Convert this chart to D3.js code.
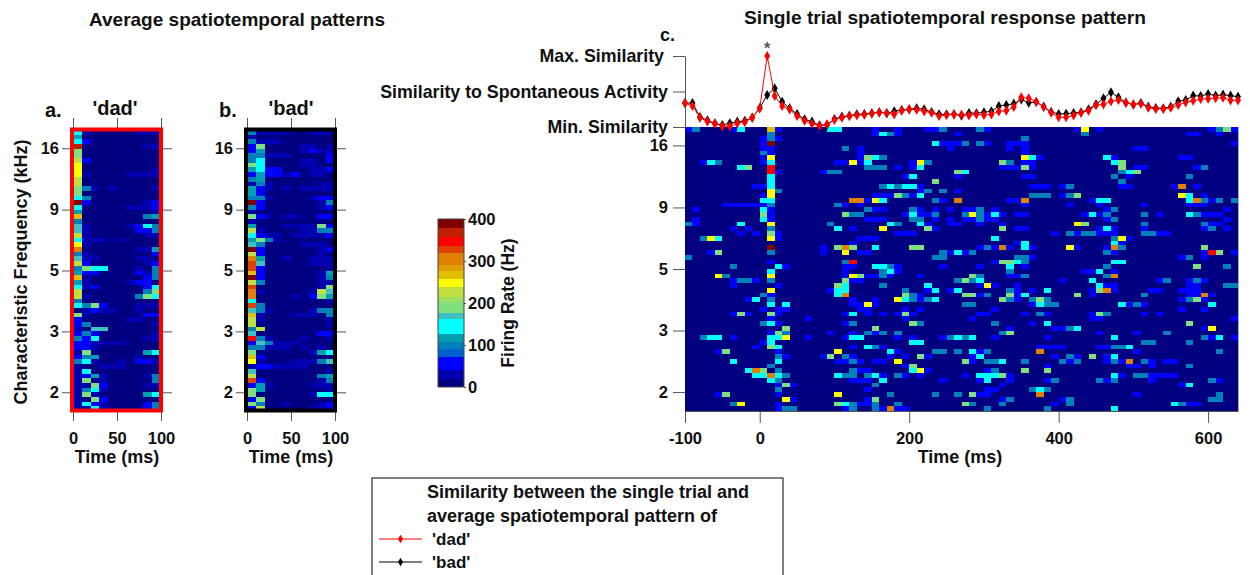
<!DOCTYPE html>
<html>
<head>
<meta charset="utf-8">
<script src="https://cdn.jsdelivr.net/npm/d3@7"></script>
<style>
  html, body { margin: 0; background: #fff; }
  text { font-family: "Liberation Sans", Arial, sans-serif; font-weight: bold; fill: #111; }
  .axis path, .axis line { stroke: #555; }
  .axis text { font-size: 16.5px; }
</style>
</head>
<body>
<svg id="chart" width="1250" height="575"></svg>
<script>
// firing rate colour steps (Hz)
const rateSteps = [20, 40, 72, 91, 107, 126, 163, 177, 203, 215, 239, 258, 277, 290, 318, 336, 358, 379];
const rateColors = ['#000080', '#0000b0', '#0000ff', '#0060d0', '#0080b8', '#00a0b0', '#00ffff', '#40c0c0', '#80e080',
  '#a0e060', '#c0e040', '#ffff00', '#e0c000', '#e0a000', '#e08000', '#e04000', '#ff0000', '#c02000', '#800000'];

// estimated rate for each letter used in the rows below
const cellRates = { d: 30, b: 55, m: 100, t: 115, c: 145, q: 170, g: 190, l: 228, y: 250, j: 268, o: 305, e: 325, r: 345, s: 370, x: 390 };

const freqTickRows = [3.9, 17, 30, 43, 56];
const freqTickLabels = ['16', '9', '5', '3', '2'];

// 60 rows top to bottom, each token is time bin + rate letter, anything missing is ~0 Hz
const dadRows = [
  '0c 1d 7d 8d 9d', '0t', '0c 1b', '0s 8d 9d', '0g', '0g', '0l 1b', '0y', '0y 9d', '0y 1d 6d 7d 8d 9d',
  '0l', '0l', '0g 1m 2d 4d 9d', '0g', '0c 1m', '0x 1b 8d 9b', '0c 6d 7d 8d 9b', '0t 9d', '0j 8m 9t', '0m',
  '0q 1d 6d 7b 8c 9m', '0q 1d 7b 8b 9m', '0l 1d 8d 9d', '0c 1d 2d 3d 5d', '0y 1d', '0o 7d 8d 9t', '0m 1d 9b', '0q 1d 2d 7d 8d', '0l 1b 8d 9b', '0m 1g 2c 3c 7d 9m',
  '0t 1b 2b 7b 8d 9m', '0j 1d 8b 9m', '0t 1d 6d 7b 8b', '0c 1d 2b 8b 9c', '0l 8m 9g', '0l 1d 7m 8g 9c', '0m', '0c 1m 2g 3b 7d 8d 9d', '1d 2b 3d 4d 7d', '0g 1d 8b 9b',
  '0b 6d 7d', '0b 1m 9d', '0d 2q 3q', '0b 1m 2b 9d', '0m 1b 2c 8d 9d', '0b 1b 2d 3d 4d 5d', '0b 1b 2d', '0d 1g 8t 9c', '0b 1m 2t 7d', '0m 1c 2d 5d 7b 8b 9d',
  '0d 3d 4d 5d', '0d 1c', '0d 1b 2t 3d 8d 9m', '0d 1g 3d 9m', '0d 1d 2g 3b 8d 9d', '0d 1m 2c 3d', '0d 1g 2d 8t 9c', '0d 2g 3b', '0d 1c 2b 3d 8b 9m', '0d 1d 2c 3d 8b 9m'
];
const badRows = [
  '0m 1d 2d 3d 4d 7d 8d 9d', '0d', '0m 1d 2d 3d', '0b 1g 6d 7d 9d', '0b 1t 6d 7b 8d 9d', '0m 1m 2d 3d 4d 9b', '0m 1c 6d 7d 9b', '0g 1c 6d 7d', '0t 1c 2b 3b 7d 8d 9b', '0b 1t 2b 3b 4d 5b 7d 8d',
  '0m 1t', '0d 1m 2d 8d 9d', '0t 1b 2d 4d 6d 7d 8d 9d', '0t 1b', '0m 1m 2d 7d 8b 9b', '0x 1b 8d 9m', '0m 1b 8d 9b', '0d', '0g 1b 2d 4d 5d 8b 9b', '0d',
  '0t 4d 5d 6d 7d 8g 9b', '0l 1d 6d 7d 8m 9m', '0c 1b 2d 3d 5d 6d 7d 8d 9b', '0t 1g 2m 3d', '0q 1m 6d 7d 8d', '0x 1b 8d 9b', '0l 1b 8d', '0o 1t 4d 7d 8d 9d', '0e 1q 7d 8d 9d', '0e 1b 9d',
  '0j 1b 8d 9t', '0x 1b 8d 9m', '0l 1m 8d 9d', '0e 8d 9g', '0o 1d 7d 8l 9q', '0o 5d 7b 8g 9t', '0c 9d', '0e 1m', '0q 1m 2d 7d 8m 9m', '0j 1d 5d 6d 7d 9m',
  '0l 1d 9d', '0l 9d', '0m 1l', '0q 8b 9b', '0r 1m 2d 6d 9d', '0b 1q 2m 3d 4d 5d', '0m 1m 2d 3d 4d 6d 8d', '0g 7d 8t 9c', '0j 1b', '0y 1d 5d 6d 7d 8m 9q',
  '0d 1b 2b 3d 4d 5d 6d', '0q 9d', '0l 8m 9t', '0e 1b 8d 9m', '0b 1t 2d 7d 8d 9d', '0g 1t 9d', '0g 7d 8c 9c', '0b 1g', '0g 1m 4d 8d 9b', '0b 1l 7d 8d 9b'
];
const trialRows = [
  '0b 1m 6b 7c 11j 12b 19c 20c 25b 28b 32b 33b 34m 39m 40b 52b 53y 55b 70b 71m 72g 73b',
  '11m 25b 26c 27m 28b 36b 53m 67b 68b 71b',
  '10b 11m 12b 45m',
  '10b 11x 33c 34b 35b 36b 37m 39m 40b 43b 44b 45b 73b',
  '10b 11b 21m 23b 35b 43b 45b 60b 61b',
  '10m 11b 23b 45b',
  '10b 11y 23b 24g 25c 26m 45y 46c 47b 56c 57b 66b 67b',
  '2b 3c 4m 10b 11c 20b 21b 22y 23b 24c 30b 31y 32m 42g 43m 45b 46b 57c 58g',
  '7c 8g 11r 24m 25m 26m 28b 30b 31c 42b 43b 44b 45g 46b 58g 60b 61b 68b 69m',
  '11r 12b 18b 19m 20m 36g 37c 58m 59c 60g',
  '11c 29b 30c 36b 45b 46b 57m 59b 67m',
  '11c 33g 58m',
  '9b 10b 11c 26m 27c 28m 29c 30c 31b 46b 47b 48b 50b 51m 58b 59b 65b 66o 68b',
  '11y 12m 31b 32m 34m 36b',
  '10b 11y 25b 26b 27b 28g 29m 30b 31c 46m 47m 48m 50b 51m 52g 66y 67c 69b',
  '10c 11c 22o 23o 24b 25y 26c 33m 34b 36o 43b 44b 45o 54b 55c 56c 67c 68o 69m 70b 71m 73m',
  '5b 6b 7b 8b 9b 10b 11m 20m 21b 23b 45b 51b 55b 61b 67b 68b 69b',
  '1b 10c 11b 24m 25b 26b 30m 31b 33b 35b 37b 38b 39m 41b 56b 57m 72b',
  '10g 11b 21g 22m 23m 29b 30c 31b 32b 33m 37m 38y 39m 40b 41c 42b 44b 45b 53b 54c 55b 56m 61m 63b 67c 68m 69b 70b 71b',
  '1b 10c 11b 24b 25b 26b 30m 31m 33b 35b 37b 38b 39m 40b 41b 56b 57m 72b',
  '0m 1b 7c 11y 19m 27c 28m 31c 32b 35b 36b 39b 42b 52y 53g 61m 69m 70b 71b',
  '6b 8b 11m 20c 22b 26y 32g 33b 42g 44b 45b 55b 56c 57b 61b 69b 70m 72b',
  '7b 9b 11g 12b 28b 29b 30b 49b 51m 52b 53m 54m 55b 56b 57b 61m 62m 63b 64b',
  '2m 3y 4c 11y 12b 23b 24b 25b 41c 57m 58y 59b',
  '22b 44b 45c 57c 58b',
  '11x 18b 20g 21o 22g 25c 30g 31g 39b 40m 41b 42o 43b 45c 46b 51y 52b 56b 57o 58m 69g',
  '3b 4g 11m 18b 21y 23b 24b 34m 35b 36c 37b 38m 56m 57b 69b 70r 71g 73b',
  '0m 33m 34m 44m 45m 46b 66b 67m 69b',
  '11b 21m 22r 41b 42g 43g 44c 45m 57c 58c',
  '6m 12c 13b 21b 22b 25c 26c 27m 28b 34b 39b 43c 45b 56m 68g 72m',
  '11c 21b 26m 27c 28b 43m 53b 54b 55c 57b',
  '4y 5m 11y 21b 22y 23g 24b 25b 26m 27b 31b 38g 39m 43b 44b 45m 56m 57o',
  '6b 7m 8m 9b 11m 21g 22b 23b 36m 37g 38m 39c 50b 54c 63b 64m 67b 68m 69b',
  '6b 12b 20g 21c 26m 32c 39b 40y 41b 44b 55c 56b 57b 67b 68b 72m 73m',
  '11y 19b 20c 21c 29m 32b 33c 35b 36c 43m 44b 46b 48c 54b 55g 56o 57b 62b 63b 66b 67b 68b',
  '10m 11b 20c 21o 29g 30m 31b 37g 38g 39b 40m 43g 44b 45c 52g 54b 61m 67b 68b 69o 70b',
  '8b 9c 11m 22b 25b 28y 29c 30m 31b 32m 33c 42g 43m 44b 46m 47g 48m 66b 67m 68g 69b',
  '11c 13c 22b 23b 24y 25b 37m 38m 46b 47c 48m 49m 58c 59b 60m 61b 70c',
  '10b 12b 13b 23b 24b 29b 31b 41b 66b 69b',
  '6b 7g 8b 11g 12b 21b 22c 24b 26b 28b 29g 30b 39b 40b 45b 47m 48b 54b 55g 56m 61b 63b',
  '11b 16b 29b 38b 54b 55b 73b',
  '10m 11c 12b 21b 22m 30g 31m 41m 46b 48c 67g',
  '13g 25g 43b 49b 50b 51m 52c 69b 70y',
  '11b 12g 13m 19b 22b 24m 25b 26m 28m 42m 43g 55b 60b 64m',
  '2m 3c 4c 6b 11c 12c 13y 16b 21b 22c 23c 28b 30b 34b 35m 36c 37m 38c 41b 48b 57c 69m 70b 71c 73b',
  '10b 11c 30c 31c 61m 62m 67m',
  '9b 11g 12c 22b 24c 25m 26b 47b 48b 49b 50b 55b 56b 57m 58m 59c',
  '4b 5g 12b 20y 27c 28b 33m 34m 36m 38c 39b 40m 47o 60b 71m',
  '12m 13b 18b 19g 21m 22b 27b 29b 31g 32b 38b 39c 49b 51m 52b 54g 56b 57c',
  '6c 12c 20b 21b 22m 23b 25b 26b 28y 37g 38b 40m 41m 42c 45m 50m 51b 52m 56b 57m 58b 59o 61m 62b 64b 65b',
  '11m 29b 30g 48b 59b 60b 62b 67m',
  '8c 9o 10g 12m 22m 23b 24b 30c 31y 32b 40b 41m 45g 48g',
  '9c 10c 11o 12c 13m 20c 21m 22m 24m 25c 26b 28m 29b 31b 37b 39c 40c 41c 42g 43b 57c 58b 60m 61m 62b 63b 64b 65b',
  '11c 12m 22b 23b 24b 26c 34b 39b 40c 43b 48b 49m 55m 56b 57m 62b 70m 71b',
  '12b 13g 14b 25m 42b 66b 67c',
  '12m 24b 40b 41b 46m 47c 48m',
  '4b 5g 12b 20y 27m 33m 36m 38g 39b 40b 47o 60b 71m',
  '13y 14b 24b 25g 42b 43m 50b 51m 70m 71m',
  '6m 7y 12b 20g 21c 22m 23b 24b 25m 28m 37g 38m 42m 49b 51m 65c 66m 67b 68b',
  '12b 13m 14m 21b 22m 25m 26b 27o 28b 29b 40m 48m 57c'
];

// similarity (% of the way from min to max), one point every 10 ms from -100 to 640
const dadSimilarity = [33.8, 29.6, 13.1, 8.0, 4.6, 1.0, 1.0, 5.2, 7.0, 13.1, 26.3, 100, 43.7, 29.6, 24.9, 15.5, 8.9, 4.6, 1.4, 3.8,
  9.9, 13.1, 15.5, 16.5, 17.3, 19.3, 20.7, 19.7, 17.9, 23.0, 24.9, 24.4, 22.1, 20.1, 15.5, 16.9, 17.9, 17.3, 16.5, 17.9,
  16.9, 17.9, 22.1, 23.0, 28.2, 41.8, 40.4, 35.6, 28.2, 20.1, 13.7, 13.7, 16.5, 20.1, 23.0, 30.6, 32.0, 36.2, 38.0, 34.2,
  32.0, 32.8, 27.2, 25.4, 25.4, 27.2, 31.0, 34.8, 37.0, 39.4, 39.9, 40.8, 41.3, 37.6, 37.6];
const badSimilarity = [33.8, 33.8, 14.1, 9.4, 5.2, 2.8, 5.2, 7.5, 8.5, 13.1, 26.8, 45.1, 54.5, 35.6, 26.3, 18.3, 10.8, 7.5, 2.4, 2.8,
  11.3, 14.5, 15.9, 17.9, 18.3, 19.3, 20.7, 19.3, 22.1, 23.9, 24.9, 26.3, 24.9, 21.1, 17.9, 17.9, 17.9, 15.9, 19.7, 19.3,
  20.7, 22.1, 29.6, 31.0, 32.8, 39.0, 34.2, 35.2, 28.6, 21.1, 18.3, 18.7, 19.7, 20.7, 24.9, 32.0, 40.4, 48.9, 41.8, 34.2,
  31.4, 33.8, 28.6, 26.8, 26.3, 28.6, 36.2, 38.0, 44.1, 43.7, 46.5, 44.1, 45.5, 44.1, 42.7];
const similarityTicks = [0, 50, 100];
const similarityLabels = ['Min. Similarity', 'Similarity to Spontaneous Activity', 'Max. Similarity'];

const colorbarTicks = [0, 100, 200, 300, 400];
const legendTitle = ['Similarity between the single trial and', 'average spatiotemporal pattern of'];
const legendItems = [["'dad'", 'red'], ["'bad'", 'black']];

const svg = d3.select('#chart');
const rateColor = d3.scaleThreshold().domain(rateSteps).range(rateColors);

function label(x, y, str, size, anchor, rotate) {
  const t = svg.append('text').attr('font-size', size).attr('text-anchor', anchor || 'start').text(str);
  if (rotate) t.attr('transform', `translate(${x},${y}) rotate(${rotate})`);
  else t.attr('x', x).attr('y', y);
  return t;
}

function drawCells(rows, x, y, binMs, t0) {
  const cells = rows.flatMap((row, r) =>
    row.split(' ').map((tok) => ({ row: r, bin: parseInt(tok, 10), rate: cellRates[tok.slice(-1)] })));
  const g = svg.append('g').attr('shape-rendering', 'crispEdges');
  g.append('rect')
    .attr('x', x.range()[0]).attr('y', y.range()[0])
    .attr('width', x.range()[1] - x.range()[0]).attr('height', y.range()[1] - y.range()[0])
    .attr('fill', rateColor(0));
  g.selectAll('rect.cell')
    .data(cells)
    .join('rect')
    .attr('class', 'cell')
    .attr('x', (d) => x(t0 + d.bin * binMs))
    .attr('y', (d) => y(d.row))
    .attr('width', x(t0 + binMs) - x(t0))
    .attr('height', y(1) - y(0))
    .attr('fill', (d) => rateColor(d.rate));
}

function drawAverage(rows, left, right, frame) {
  const x = d3.scaleLinear().domain([0, 100]).range([left, right]);
  const y = d3.scaleLinear().domain([0, 60]).range([130, 411]);
  drawCells(rows, x, y, 10, 0);

  const yAxis = (axis) => axis.tickValues(freqTickRows).tickFormat((d, i) => freqTickLabels[i]).tickSize(11).tickSizeOuter(0);
  svg.append('g').attr('class', 'axis').attr('transform', `translate(${left},0)`).call(yAxis(d3.axisLeft(y))).call((g) => g.select('.domain').remove());
  svg.append('g').attr('class', 'axis').attr('transform', `translate(${right},0)`).call(yAxis(d3.axisRight(y))).call((g) => {
    g.select('.domain').remove();
    g.selectAll('text').remove();
  });

  const xTicks = [0, 50, 100];
  svg.append('g').attr('class', 'axis').attr('transform', 'translate(0,411)')
    .call(d3.axisBottom(x).tickValues(xTicks).tickSize(10).tickPadding(11)).call((g) => g.select('.domain').remove());
  svg.append('g').attr('class', 'axis').attr('transform', 'translate(0,130)')
    .call(d3.axisTop(x).tickValues(xTicks).tickSize(12)).call((g) => {
      g.select('.domain').remove();
      g.selectAll('text').remove();
    });

  svg.append('rect')
    .attr('x', left - 1).attr('y', 129.5)
    .attr('width', right - left + 1).attr('height', 281)
    .attr('fill', 'none').attr('stroke', frame).attr('stroke-width', 4);

  label((left + right) / 2, 463, 'Time (ms)', 18, 'middle');
}

// panel a and b
drawAverage(dadRows, 73, 161, '#ff0000');
drawAverage(badRows, 247, 335, '#000000');
label(89, 26, 'Average spatiotemporal patterns', 19);
label(115, 115, "'dad'", 20, 'middle');
label(291, 115, "'bad'", 20, 'middle');
label(45, 117, 'a.', 20);
label(219, 117, 'b.', 20);
label(27, 272, 'Characteristic Frequency (kHz)', 18, 'middle', -90);

// colour bar
const barY = d3.scaleLinear().domain([0, 400]).range([387, 219]);
const barEdges = [0, ...rateSteps, 400];
svg.append('g').attr('shape-rendering', 'crispEdges')
  .selectAll('rect')
  .data(rateColors)
  .join('rect')
  .attr('x', 438).attr('width', 26)
  .attr('y', (d, i) => barY(barEdges[i + 1]))
  .attr('height', (d, i) => barY(barEdges[i]) - barY(barEdges[i + 1]))
  .attr('fill', (d) => d);
svg.append('rect').attr('x', 438).attr('y', 219).attr('width', 26).attr('height', 168).attr('fill', 'none').attr('stroke', '#444');
svg.append('g').attr('class', 'axis').attr('transform', 'translate(464,0)')
  .call(d3.axisRight(barY).tickValues(colorbarTicks).tickSize(2).tickPadding(2)).call((g) => g.select('.domain').remove());
label(514, 303, 'Firing Rate (Hz)', 17.5, 'middle', -90);

// panel c
const trialX = d3.scaleLinear().domain([-100, 640]).range([685, 1238]);
const trialY = d3.scaleLinear().domain([0, 60]).range([127, 411]);
drawCells(trialRows, trialX, trialY, 10, -100);

svg.append('g').attr('class', 'axis').attr('transform', 'translate(685,0)')
  .call(d3.axisLeft(trialY).tickValues(freqTickRows).tickFormat((d, i) => freqTickLabels[i]).tickSize(12).tickPadding(5))
  .call((g) => g.select('.domain').remove());
svg.append('g').attr('class', 'axis').attr('transform', 'translate(0,411)')
  .call(d3.axisBottom(trialX).tickValues([-100, 0, 200, 400, 600]).tickFormat((d) => String(d)).tickSize(12).tickSizeOuter(0).tickPadding(9))
  .call((g) => g.select('.domain').attr('stroke', '#888'));
svg.append('line').attr('x1', 1238.5).attr('x2', 1238.5).attr('y1', 127).attr('y2', 411).attr('stroke', '#aaa');
label(960, 463, 'Time (ms)', 18, 'middle');

const simY = d3.scaleLinear().domain([0, 100]).range([127, 56]);
svg.append('g').attr('class', 'axis').attr('transform', 'translate(685,0)')
  .call(d3.axisLeft(simY).tickValues(similarityTicks).tickSize(12).tickSizeOuter(0))
  .call((g) => g.selectAll('text').remove());

function drawSimilarity(values, color) {
  const line = d3.line().x((d, i) => trialX(-100 + i * 10)).y((d) => simY(d));
  svg.append('path').attr('d', line(values)).attr('fill', 'none').attr('stroke', color).attr('stroke-width', 1);
  svg.append('g').selectAll('path')
    .data(values)
    .join('path')
    .attr('d', d3.symbol(d3.symbolDiamond, 30))
    .attr('transform', (d, i) => `translate(${trialX(-100 + i * 10)},${simY(d)})`)
    .attr('fill', color);
}
drawSimilarity(badSimilarity, 'black');
drawSimilarity(dadSimilarity, 'red');

similarityLabels.forEach((s, i) => {
  const dx = i === 2 ? 664 : 668;
  label(dx, simY(similarityTicks[i]) + 6, s, 17.8, 'end');
});
label(660, 41, 'c.', 18);
label(767, 54, '*', 16, 'middle').style('fill', '#555');
label(744, 24, 'Single trial spatiotemporal response pattern', 19.2);

// legend
svg.append('rect').attr('x', 372).attr('y', 478).attr('width', 411).attr('height', 110).attr('fill', 'none').attr('stroke', '#555').attr('stroke-width', 1.5);
legendTitle.forEach((s, i) => label(427, 498 + i * 24, s, 18));
legendItems.forEach(([name, color], i) => {
  const y = 539 + i * 23;
  svg.append('line').attr('x1', 379).attr('x2', 422).attr('y1', y).attr('y2', y).attr('stroke', color);
  svg.append('path').attr('d', d3.symbol(d3.symbolDiamond, 22)).attr('transform', `translate(400.5,${y})`).attr('fill', color);
  label(432, y + 6, name, 17);
});
</script>
</body>
</html>
